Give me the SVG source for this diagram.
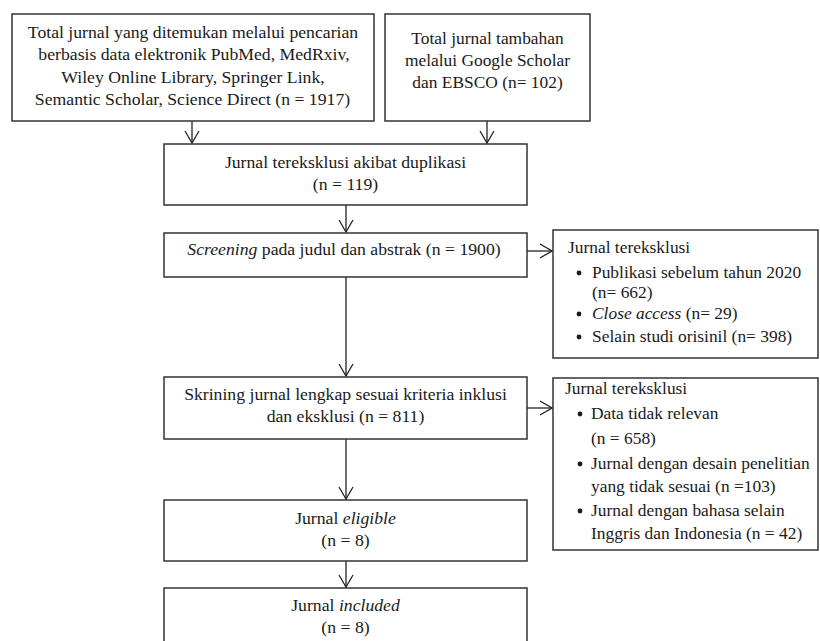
<svg xmlns="http://www.w3.org/2000/svg" width="820" height="641" viewBox="0 0 820 641">
<defs>
<style>
.box{fill:#fff;stroke:#333;stroke-width:1.5}
.t{font-family:"Liberation Serif","Times New Roman",serif;font-size:17.7px;fill:#1a1a1a}
.s{font-size:17.4px}
.c{text-anchor:middle}
.con{fill:none;stroke:#222;stroke-width:1.3}
.dot{fill:#1a1a1a}
</style>
<marker id="ah" viewBox="0 0 14 16" refX="13" refY="8" markerWidth="14" markerHeight="16" markerUnits="userSpaceOnUse" orient="auto">
<path d="M1,1 L13,8 L1,15" fill="none" stroke="#222" stroke-width="1.3"/>
</marker>
</defs>
<rect width="820" height="641" fill="#fff"/>
<g id="connectors">
<line class="con" x1="192" y1="121" x2="192" y2="143" marker-end="url(#ah)"/>
<line class="con" x1="487" y1="121" x2="487" y2="143" marker-end="url(#ah)"/>
<line class="con" x1="346" y1="205" x2="346" y2="232" marker-end="url(#ah)"/>
<line class="con" x1="346" y1="277" x2="346" y2="376" marker-end="url(#ah)"/>
<line class="con" x1="527" y1="251" x2="552" y2="251" marker-end="url(#ah)"/>
<line class="con" x1="346" y1="439" x2="346" y2="499" marker-end="url(#ah)"/>
<line class="con" x1="527" y1="408" x2="552" y2="408" marker-end="url(#ah)"/>
<line class="con" x1="346" y1="561" x2="346" y2="587" marker-end="url(#ah)"/>
</g>
<g id="n1">
<rect class="box" x="12" y="14" width="362" height="107"/>
<text class="t c" x="193" y="37.5">Total jurnal yang ditemukan melalui pencarian</text>
<text class="t c" x="194" y="60">berbasis data elektronik PubMed, MedRxiv,</text>
<text class="t c" x="193" y="82.5">Wiley Online Library, Springer Link,</text>
<text class="t c" x="192.5" y="105">Semantic Scholar, Science Direct (n = 1917)</text>
</g>
<g id="n2">
<rect class="box" x="385" y="14" width="205" height="107"/>
<text class="t c s" x="487.5" y="44">Total jurnal tambahan</text>
<text class="t c s" x="487.5" y="66">melalui Google Scholar</text>
<text class="t c s" x="487.5" y="88">dan EBSCO (n= 102)</text>
</g>
<g id="n3">
<rect class="box" x="164" y="144" width="363" height="61"/>
<text class="t c" x="345.5" y="168">Jurnal tereksklusi akibat duplikasi</text>
<text class="t c" x="345.5" y="190">(n = 119)</text>
</g>
<g id="n4">
<rect class="box" x="164" y="233" width="363" height="44"/>
<text class="t c" x="344" y="255"><tspan font-style="italic">Screening</tspan> pada judul dan abstrak (n = 1900)</text>
</g>
<g id="n5">
<rect class="box" x="553" y="230" width="265" height="128"/>
<text class="t s" x="568" y="252.5">Jurnal tereksklusi</text>
<circle class="dot" cx="579" cy="273" r="2.4"/>
<text class="t s" x="592" y="278">Publikasi sebelum tahun 2020</text>
<text class="t s" x="592" y="298">(n= 662)</text>
<circle class="dot" cx="579" cy="314" r="2.4"/>
<text class="t s" x="592" y="319"><tspan font-style="italic">Close access</tspan> (n= 29)</text>
<circle class="dot" cx="579" cy="337" r="2.4"/>
<text class="t s" x="592" y="342">Selain studi orisinil (n= 398)</text>
</g>
<g id="n6">
<rect class="box" x="164" y="377" width="363" height="62"/>
<text class="t c" x="345.5" y="400">Skrining jurnal lengkap sesuai kriteria inklusi</text>
<text class="t c" x="345.5" y="422">dan eksklusi  (n = 811)</text>
</g>
<g id="n7">
<rect class="box" x="553" y="378" width="265" height="172"/>
<text class="t s" x="565" y="394">Jurnal tereksklusi</text>
<circle class="dot" cx="580" cy="414" r="2.4"/>
<text class="t s" x="591" y="419">Data tidak relevan</text>
<text class="t s" x="591" y="444">(n = 658)</text>
<circle class="dot" cx="580" cy="464" r="2.4"/>
<text class="t s" x="591" y="469">Jurnal dengan desain penelitian</text>
<text class="t s" x="591" y="492">yang tidak sesuai  (n =103)</text>
<circle class="dot" cx="580" cy="511" r="2.4"/>
<text class="t s" x="591" y="516">Jurnal dengan bahasa selain</text>
<text class="t s" x="591" y="539">Inggris dan Indonesia  (n = 42)</text>
</g>
<g id="n8">
<rect class="box" x="164" y="500" width="363" height="61"/>
<text class="t c" x="345.5" y="524">Jurnal <tspan font-style="italic">eligible</tspan></text>
<text class="t c" x="345.5" y="546">(n = 8)</text>
</g>
<g id="n9">
<rect class="box" x="164" y="588" width="363" height="62"/>
<text class="t c" x="345.5" y="611">Jurnal <tspan font-style="italic">included</tspan></text>
<text class="t c" x="345.5" y="633">(n = 8)</text>
</g>
</svg>
